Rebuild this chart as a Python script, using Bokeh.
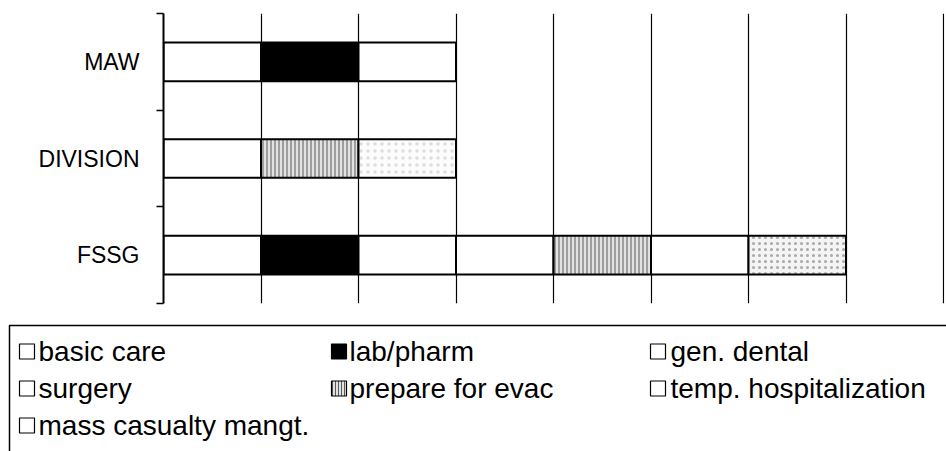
from bokeh.plotting import figure
from bokeh.models import ColumnDataSource, Range1d, FixedTicker
from bokeh.embed import file_html
from bokeh.resources import INLINE
from bokeh.core.properties import value

# ---------------- data ----------------
categories = ["MAW", "DIVISION", "FSSG"]
series = ["basic care", "lab/pharm", "gen. dental", "surgery",
          "prepare for evac", "temp. hospitalization", "mass casualty mangt."]
basic_care = [1, 1, 1]
lab_pharm = [1, 1, 1]
gen_dental = [1, 1, 1]
surgery = [0, 0, 1]
prepare_for_evac = [0, 0, 1]
temp_hospitalization = [0, 0, 1]
mass_casualty_mangt = [0, 0, 1]
values = [basic_care, lab_pharm, gen_dental, surgery,
          prepare_for_evac, temp_hospitalization, mass_casualty_mangt]
x_ticks = [1, 2, 3, 4, 5, 6, 7, 8]

# ---------------- styles ----------------
WHITE = dict(fill="white", hatch=" ", hcolor="black", hscale=4, halpha=1.0)
STYLE = {
    "basic care": WHITE,
    "lab/pharm": dict(fill="black", hatch=" ", hcolor="black", hscale=4, halpha=1.0),
    "gen. dental": WHITE,
    "surgery": WHITE,
    "prepare for evac": dict(fill="#e2e2e2", hatch="vertical_line", hcolor="#5a5a5a", hscale=4, halpha=1.0),
    "temp. hospitalization": WHITE,
    "mass casualty mangt.": dict(fill="#f4f4f4", hatch="dot", hcolor="#a8a8a8", hscale=6, halpha=1.0),
}
# the scanned DIVISION bar is rendered with different textures
OVERRIDE = {
    ("DIVISION", "lab/pharm"): STYLE["prepare for evac"],
    ("DIVISION", "gen. dental"): dict(fill="#fcfcfc", hatch="dot", hcolor="#c8c8c8", hscale=7, halpha=0.6),
}

FONT = "Liberation Sans"

# ---------------- segments ----------------
seg = dict(y=[], left=[], right=[], fill=[], hatch=[], hcolor=[], hscale=[], halpha=[])
for ci, cat in enumerate(categories):
    acc = 0
    for si, name in enumerate(series):
        v = values[si][ci]
        if v <= 0:
            continue
        st = OVERRIDE.get((cat, name), STYLE[name])
        seg["y"].append(ci + 0.5)
        seg["left"].append(acc)
        seg["right"].append(acc + v)
        seg["fill"].append(st["fill"])
        seg["hatch"].append(st["hatch"])
        seg["hcolor"].append(st["hcolor"])
        seg["hscale"].append(st["hscale"])
        seg["halpha"].append(st["halpha"])
        acc += v
src = ColumnDataSource(seg)

# ---------------- chart ----------------
W = 946
H1 = 318
p = figure(width=W, height=H1, output_backend="svg", toolbar_location=None,
           x_range=Range1d(0, 8.01), y_range=Range1d(len(categories), 0),
           min_border_left=163, min_border_right=2, min_border_top=13,
           min_border_bottom=15)
p.outline_line_color = None
p.xaxis.visible = False
p.ygrid.visible = False
p.xgrid.ticker = FixedTicker(ticks=x_ticks)
p.xgrid.grid_line_color = "black"
p.xgrid.grid_line_width = 1.2

ax = p.yaxis[0]
ax.ticker = FixedTicker(ticks=[i + 0.5 for i in range(len(categories))],
                        minor_ticks=list(range(len(categories) + 1)))
ax.major_label_overrides = {i + 0.5: c for i, c in enumerate(categories)}
ax.major_tick_line_color = None
ax.major_tick_out = 0
ax.major_tick_in = 0
ax.minor_tick_line_color = "black"
ax.minor_tick_line_width = 1.5
ax.minor_tick_out = 7
ax.minor_tick_in = 0
ax.axis_line_color = "black"
ax.axis_line_width = 2
ax.major_label_standoff = 17
ax.major_label_text_font = FONT
ax.major_label_text_font_size = "23px"
ax.major_label_text_color = "black"

p.hbar(y="y", left="left", right="right", height=0.4, source=src,
       fill_color="fill", hatch_pattern="hatch", hatch_color="hcolor",
       hatch_scale="hscale", hatch_alpha="halpha", hatch_weight=1,
       line_color="black", line_width=2)

# ---------------- legend ----------------
H2 = 451 - H1
lg = figure(width=W, height=H2, output_backend="svg", toolbar_location=None,
            x_range=Range1d(0, W), y_range=Range1d(H2, 0),
            min_border=0, min_border_left=0, min_border_right=0,
            min_border_top=0, min_border_bottom=0)
lg.axis.visible = False
lg.grid.visible = False
lg.outline_line_color = None

lg.quad(left=9, right=W + 20, top=7, bottom=H2 + 20, fill_color=None,
        line_color="black", line_width=1.5)

col_x = [19, 331, 650]
col_tx = [38, 349, 670]
row_y = [33, 70, 107]
ncols = 3
leg = dict(x=[], y=[], tx=[], label=[], fill=[], hatch=[], hcolor=[], hscale=[])
for i, name in enumerate(series):
    r, c = divmod(i, ncols)
    st = STYLE[name]
    leg["x"].append(col_x[c] + 7.5)
    leg["y"].append(row_y[r])
    leg["tx"].append(col_tx[c])
    leg["label"].append(name)
    if st["hatch"] == "vertical_line":
        leg["fill"].append(st["fill"])
        leg["hatch"].append(st["hatch"])
        leg["hscale"].append(3)
    else:
        leg["fill"].append("black" if st["fill"] == "black" else "white")
        leg["hatch"].append(" ")
        leg["hscale"].append(4)
    leg["hcolor"].append(st["hcolor"])
lsrc = ColumnDataSource(leg)
lg.rect(x="x", y="y", width=15, height=15, source=lsrc, fill_color="fill",
        hatch_pattern="hatch", hatch_color="hcolor", hatch_scale="hscale",
        line_color="black", line_width=1.2)
lg.text(x="tx", y="y", text="label", source=lsrc, text_font=value(FONT),
        text_font_size="28px", text_baseline="middle", text_color="black")

open("out.html", "w").write(file_html([p, lg], INLINE))
